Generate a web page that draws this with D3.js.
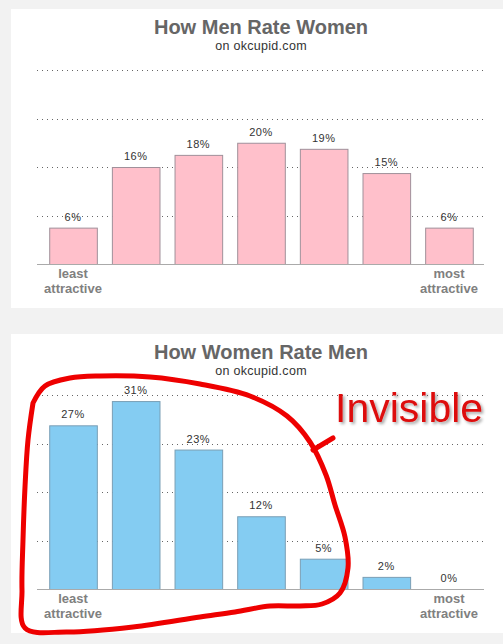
<!DOCTYPE html>
<html><head><meta charset="utf-8">
<script src="https://cdn.jsdelivr.net/npm/d3@7"></script>
<style>body{margin:0;background:#f2f2f2;}svg{display:block;}</style>
</head><body><svg id="c" width="503" height="644"></svg>
<script>
const categories = ["1","2","3","4","5","6","7"];
const menRateWomen = [6, 16, 18, 20, 19, 15, 6];
const womenRateMen = [27, 31, 23, 12, 5, 2, 0];
const gridTicks = [8, 16, 24, 32];
const titles = ["How Men Rate Women", "How Women Rate Men"];
const subtitle = "on okcupid.com";
const endLabels = [["least","attractive"],["most","attractive"]];
const annotationText = "Invisible";
// hand-drawn annotation loop (relative to lower panel origin)
const loopPts = [[33,403],[45,386],[70,378],[100,376],[150,377],[200,384],[250,396],[287,416],[310,442],[326,475],[335,505],[345,537],[348,568],[340,593],[322,604],[300,606],[270,606],[235,612],[200,617],[133,627],[67,632],[25,628],[22,590],[23,540],[25,487],[28,440],[33,403]];
const tickPts = [[313,450],[333,438]];

const svg = d3.select("#c");
const panels = [
  {top: 9, data: menRateWomen, fill: "#ffc0cb", stroke: "#a0909a", title: titles[0]},
  {top: 334, data: womenRateMen, fill: "#84ccf2", stroke: "#7a9fb5", title: titles[1]}
];

panels.forEach(p => {
  const g = svg.append("g").attr("transform", `translate(0,${p.top})`);
  g.append("rect").attr("x", 11).attr("y", 0).attr("width", 492).attr("height", 299).attr("fill", "#fff");
  const x = d3.scaleBand().domain(categories).range([41.7, 480.3]).paddingInner(0.24).paddingOuter(0.12);
  const y = d3.scaleLinear().domain([0, 32]).range([255, 61]);
  g.append("text").attr("x", 261).attr("y", 25).attr("text-anchor", "middle")
    .attr("font-family", "Liberation Sans, Arial, sans-serif").attr("font-weight", "bold")
    .attr("font-size", 20).attr("fill", "#666").text(p.title);
  g.append("text").attr("x", 261).attr("y", 41).attr("text-anchor", "middle")
    .attr("font-family", "Liberation Sans, Arial, sans-serif").attr("font-size", 12.5)
    .attr("letter-spacing", 0.3).attr("fill", "#333").text(subtitle);
  g.selectAll(".grid").data(gridTicks).join("line")
    .attr("x1", 37).attr("x2", 484).attr("y1", d => Math.round(y(d)) + 0.5).attr("y2", d => Math.round(y(d)) + 0.5)
    .attr("stroke", "#666").attr("stroke-width", 1).attr("stroke-dasharray", "1,4");
  g.selectAll(".bar").data(p.data.map((v,i)=>({v, c: categories[i]}))).join("rect")
    .filter(d => d.v > 0)
    .attr("x", d => x(d.c) + 0.5).attr("width", x.bandwidth())
    .attr("y", d => y(d.v) + 0.5).attr("height", d => y(0) - y(d.v))
    .attr("fill", p.fill).attr("stroke", p.stroke).attr("stroke-width", 1);
  g.selectAll(".lbl").data(p.data.map((v,i)=>({v, c: categories[i]}))).join("text")
    .attr("x", d => x(d.c) + x.bandwidth()/2).attr("y", d => y(d.v) - 7)
    .attr("text-anchor", "middle").attr("font-family", "Liberation Sans, Arial, sans-serif")
    .attr("font-size", 11).attr("letter-spacing", 0.5).attr("fill", "#333").text(d => d.v + "%");
  g.append("line").attr("x1", 37).attr("x2", 484).attr("y1", y(0) + 0.5).attr("y2", y(0) + 0.5)
    .attr("stroke", "#aaa").attr("stroke-width", 1);
  [categories[0], categories[categories.length-1]].forEach((c, k) => {
    endLabels[k].forEach((t, j) => {
      g.append("text").attr("x", x(c) + x.bandwidth()/2).attr("y", y(0) + 14 + j*15)
        .attr("text-anchor", "middle").attr("font-family", "Liberation Sans, Arial, sans-serif")
        .attr("font-weight", "bold").attr("font-size", 13).attr("fill", "#808080").text(t);
    });
  });
});

// annotation
const defs = svg.append("defs");
const f = defs.append("filter").attr("id", "sh").attr("x", "-10%").attr("y", "-10%").attr("width", "130%").attr("height", "140%");
f.append("feDropShadow").attr("dx", 2).attr("dy", 2).attr("stdDeviation", 1.5).attr("flood-color", "#000").attr("flood-opacity", 0.35);
const line = d3.line().curve(d3.curveCatmullRom.alpha(0.5));
svg.append("path").attr("d", line(loopPts)).attr("fill", "none").attr("stroke", "#ee0000")
  .attr("stroke-width", 5).attr("stroke-linecap", "round").attr("stroke-linejoin", "round");
svg.append("path").attr("d", line(tickPts)).attr("fill", "none").attr("stroke", "#ee0000")
  .attr("stroke-width", 5).attr("stroke-linecap", "round");
svg.append("text").attr("x", 335).attr("y", 422).attr("font-family", "Liberation Sans, Arial, sans-serif")
  .attr("font-size", 41).attr("fill", "#dd1111").attr("filter", "url(#sh)").text(annotationText);
</script></body></html>
